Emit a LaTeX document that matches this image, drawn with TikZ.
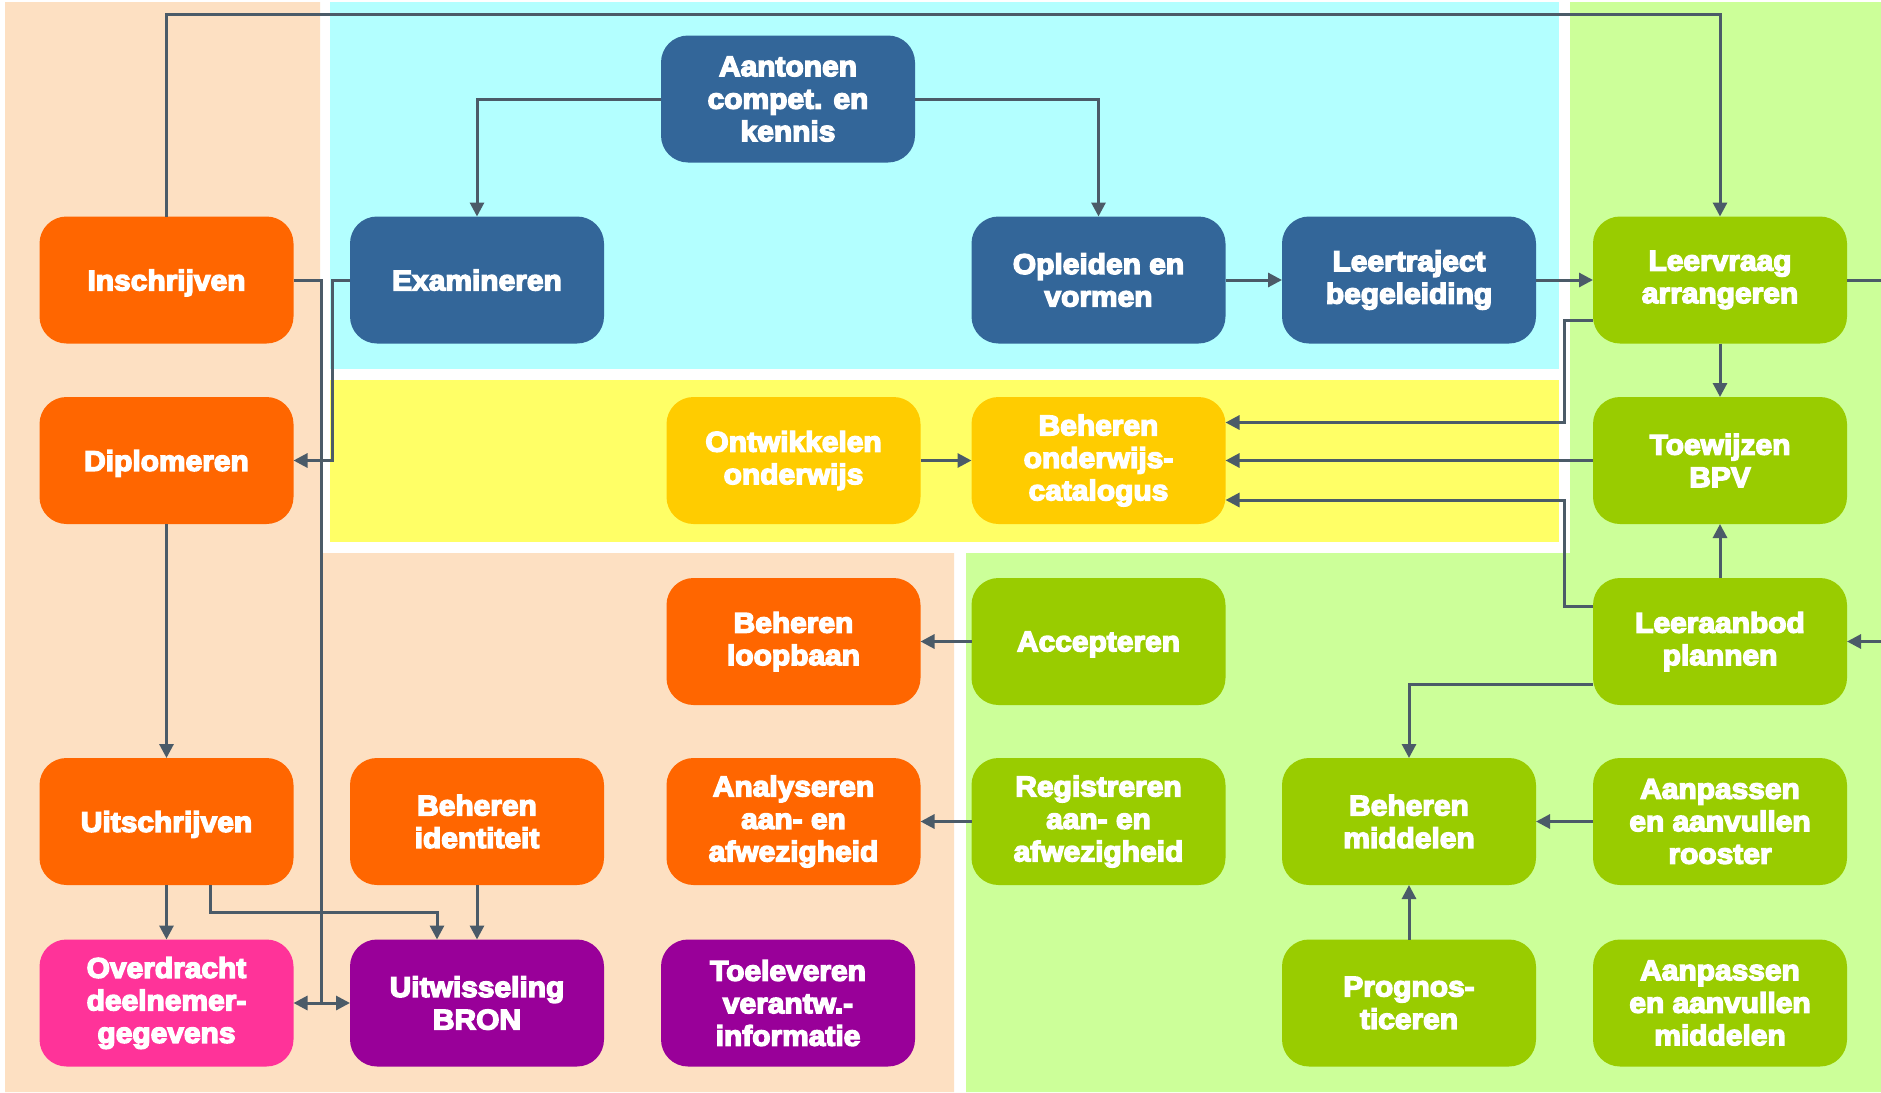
\documentclass[tikz,border=0pt]{standalone}
\usepackage{fontspec}
\usetikzlibrary{arrows.meta}
\newfontfamily\boxfamily{Liberation Sans Bold}[FakeBold=5,FakeStretch=1.05]
\newcommand{\boxfnt}{\boxfamily\fontsize{28.5}{32.5}\selectfont}
\definecolor{peachbg}{HTML}{FDE0C2}
\definecolor{cyanbg}{HTML}{B3FFFF}
\definecolor{yellowbg}{HTML}{FFFF66}
\definecolor{greenbg}{HTML}{CCFF99}
\definecolor{cblue}{HTML}{336699}
\definecolor{corange}{HTML}{FF6600}
\definecolor{cgold}{HTML}{FFCC00}
\definecolor{cgreen}{HTML}{99CC00}
\definecolor{cpink}{HTML}{FF3399}
\definecolor{cpurple}{HTML}{990099}
\definecolor{lineclr}{HTML}{4B5B68}
\tikzset{
  procbox/.style={rectangle, rounded corners=27pt, minimum width=254pt, minimum height=127pt,
    inner sep=0pt, outer sep=0pt, align=center, text=white, font=\boxfnt},
  oneline/.style={text depth=0pt},
  bluebox/.style={procbox, fill=cblue},
  orangebox/.style={procbox, fill=corange},
  goldbox/.style={procbox, fill=cgold},
  greenbox/.style={procbox, fill=cgreen},
  pinkbox/.style={procbox, fill=cpink},
  purplebox/.style={procbox, fill=cpurple},
  conn/.style={draw=lineclr, line width=3pt},
  arr/.style={conn, -{Triangle[length=14pt,width=14pt]}},
  dblarr/.style={conn, {Triangle[length=14pt,width=14pt]}-{Triangle[length=14pt,width=14pt]}},
}
\begin{document}
\begin{tikzpicture}[x=1pt,y=-1pt]
\useasboundingbox (0,0) rectangle (1881,1092);
\fill[white] (0,0) rectangle (1881,1092);
% background zones
\fill[peachbg] (5,2) -- (320,2) -- (320,553) -- (954,553) -- (954,1092) -- (5,1092) -- cycle;
\fill[cyanbg] (330,2) rectangle (1559,369);
\fill[yellowbg] (330,380) rectangle (1559,542);
\fill[greenbg] (1570,2) -- (1881,2) -- (1881,1092) -- (966,1092) -- (966,553) -- (1570,553) -- cycle;

% nodes
\node[bluebox] (aan) at (788,99) {Aantonen\\compet. en\\kennis};
\node[orangebox,oneline] (insch) at (166.5,280) {Inschrijven};
\node[bluebox,oneline] (exa) at (477,280) {Examineren};
\node[bluebox] (opl) at (1098.5,280) {Opleiden en\\vormen};
\node[bluebox] (ltr) at (1409,280) {Leertraject\\begeleiding};
\node[greenbox] (lvr) at (1720,280) {Leervraag\\arrangeren};
\node[orangebox,oneline] (dip) at (166.5,460.5) {Diplomeren};
\node[goldbox] (ont) at (793.5,460.5) {Ontwikkelen\\onderwijs};
\node[goldbox] (cat) at (1098.5,460.5) {Beheren\\onderwijs-\\catalogus};
\node[greenbox] (toe) at (1720,460.5) {Toewijzen\\BPV};
\node[orangebox] (loop) at (793.5,641.5) {Beheren\\loopbaan};
\node[greenbox,oneline] (acc) at (1098.5,641.5) {Accepteren};
\node[greenbox] (lab) at (1720,641.5) {Leeraanbod\\plannen};
\node[orangebox,oneline] (uits) at (166.5,821.5) {Uitschrijven};
\node[orangebox] (bid) at (477,821.5) {Beheren\\identiteit};
\node[orangebox] (ana) at (793.5,821.5) {Analyseren\\aan- en\\afwezigheid};
\node[greenbox] (reg) at (1098.5,821.5) {Registreren\\aan- en\\afwezigheid};
\node[greenbox] (mid) at (1409,821.5) {Beheren\\middelen};
\node[greenbox] (roo) at (1720,821.5) {Aanpassen\\en aanvullen\\rooster};
\node[pinkbox] (ovd) at (166.5,1003) {Overdracht\\deelnemer-\\gegevens};
\node[purplebox] (uitw) at (477,1003) {Uitwisseling\\BRON};
\node[purplebox] (tol) at (788,1003) {Toeleveren\\verantw.-\\informatie};
\node[greenbox] (pro) at (1409,1003) {Prognos-\\ticeren};
\node[greenbox] (amid) at (1720,1003) {Aanpassen\\en aanvullen\\middelen};

\coordinate (edgeA) at (1881,280);
\coordinate (edgeB) at (1881,641.5);
\coordinate (jn) at (321,1003);

% connectors
\draw[arr] (insch.north) -- ++(0,-202) -| (lvr.north);
\draw[arr] (aan.west) -| (exa.north);
\draw[arr] (aan.east) -| (opl.north);
\draw[arr] (opl.east) -- (ltr.west);
\draw[arr] (ltr.east) -- (lvr.west);
\draw[conn] (lvr.east) -- (edgeA);
\draw[arr] (lvr.south) -- (toe.north);
\draw[arr] ([yshift=-40pt]lvr.west) -- ++(-29,0) |- ([yshift=38pt]cat.east);
\draw[arr] (toe.west) -- (cat.east);
\draw[arr] ([yshift=35.5pt]lab.west) -- ++(-29,0) |- ([yshift=-39.5pt]cat.east);
\draw[arr] (lab.north) -- (toe.south);
\draw[arr] (edgeB) -- (lab.east);
\draw[arr] ([yshift=-42.5pt]lab.west) -| (mid.north);
\draw[arr] (roo.west) -- (mid.east);
\draw[arr] (pro.north) -- (mid.south);
\draw[arr] (acc.west) -- (loop.east);
\draw[arr] (reg.west) -- (ana.east);
\draw[arr] (ont.east) -- (cat.west);
\draw[conn] (insch.east) -| (jn);
\draw[dblarr] (ovd.east) -- (uitw.west);
\draw[arr] (exa.west) -- ++(-18,0) |- (dip.east);
\draw[arr] (dip.south) -- (uits.north);
\draw[arr] (uits.south) -- (ovd.north);
\draw[arr] ([xshift=43.5pt]uits.south) -- ++(0,27.5) -| ([xshift=-40pt]uitw.north);
\draw[arr] (bid.south) -- (uitw.north);
\end{tikzpicture}
\end{document}
